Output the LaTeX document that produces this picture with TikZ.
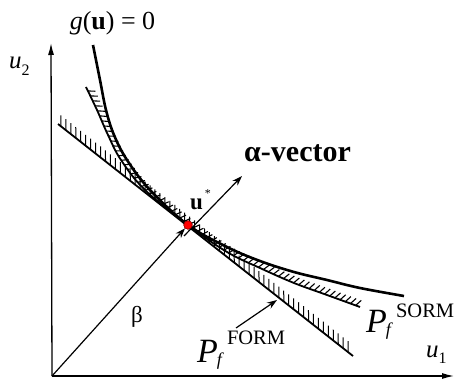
\documentclass[tikz,border=0pt]{standalone}
\usepackage{fontspec}
\setmainfont{Liberation Serif}
\usetikzlibrary{arrows.meta,decorations.markings}
\tikzset{
  axisline/.style={line width=1.3pt,-{Latex[length=12pt,width=6pt]}},
  limitcurve/.style={line width=2.6pt},
  sormcurve/.style={line width=1.8pt,
    postaction={decorate,decoration={markings,
      mark=between positions 0.012 and 0.99 step 5.5pt with {\draw[line width=1.1pt] (0pt,0pt) -- (62:7.5pt);}}}},
  formline/.style={line width=1.8pt,
    postaction={decorate,decoration={markings,
      mark=between positions 0.01 and 0.995 step 6.3pt with {\draw[line width=1pt] (0pt,0pt) -- (128.5:11pt);}}}},
  vecarrow/.style={line width=1.2pt,-{Stealth[length=10pt,width=7pt]}},
  lbl/.style={inner sep=0pt},
  dpoint/.style={circle,fill=red,draw=red!50!black,line width=0.4pt,inner sep=0pt,minimum size=8.5pt}
}
\begin{document}
\begin{tikzpicture}[x=1pt,y=-1pt]
\useasboundingbox (0,0) rectangle (454,379);
% coordinates
\coordinate (O) at (52,376);
\coordinate (ytip) at (51,43);
\coordinate (xtip) at (454,376);
\coordinate (f1) at (58,124);
\coordinate (f2) at (353,356);
\coordinate (astart) at (184,236);
\coordinate (atip) at (242,176);
\coordinate (pa1) at (236,328);
\coordinate (pa2) at (277,300);
% axes
\draw[axisline] (O) -- (ytip);
\draw[axisline] (O) -- (xtip);
% FORM line
\draw[formline] (f1) -- (f2);
% SORM curve
\draw[sormcurve] plot[smooth,tension=0.6] coordinates {(86,87) (97,110) (108,135) (121,160) (145,190) (188,225) (227,252) (260,268) (294,283) (327,295) (360,307)};
% limit state curve
\draw[limitcurve] plot[smooth,tension=0.6] coordinates {(93,45) (100,80) (106,110) (114,135) (127,160) (150,190) (188,225) (227,247) (260,261) (294,272) (327,280) (360,288) (404,296)};
% design point
\node[dpoint] (dp) at (188,225) {};
% vectors
\draw[vecarrow] (O) -- (dp);
\draw[vecarrow] (astart) -- (atip);
\draw[vecarrow] (pa1) -- (pa2);
\node[dpoint] at (dp) {};
% labels
\node[lbl,anchor=base] (glab) at (112.5,30) {\fontsize{26}{26}\selectfont\textit{g}(\textbf{u}) = 0};
\node[lbl,anchor=base west] (u2) at (9,69) {\fontsize{25}{25}\selectfont\textit{u}\raisebox{-7pt}{\fontsize{16}{16}\selectfont 2}};
\node[lbl,anchor=base west] (u1) at (426,357) {\fontsize{25}{25}\selectfont\textit{u}\raisebox{-6pt}{\fontsize{16}{16}\selectfont 1}};
\node[lbl,anchor=base] (beta) at (137,322) {\fontsize{23}{23}\selectfont β};
\node[lbl,anchor=base west] (ustar) at (190,209) {\fontsize{23}{23}\selectfont\textbf{u}\kern2pt\raisebox{12pt}{\fontsize{12}{12}\selectfont *}};
\node[lbl,anchor=base west] (alab) at (244,162) {\fontsize{30}{30}\selectfont\bfseries α-vector};
\node[lbl,anchor=base west] (pform) at (197,362) {\fontsize{34}{34}\selectfont\textit{P}\kern-1pt\raisebox{-3pt}{\fontsize{18}{18}\selectfont\textit{f}}\kern3pt\raisebox{18pt}{\fontsize{20.5}{20.5}\selectfont FORM}};
\node[lbl,anchor=base west] (psorm) at (366,332) {\fontsize{34}{34}\selectfont\textit{P}\kern-1pt\raisebox{-3pt}{\fontsize{18}{18}\selectfont\textit{f}}\kern3pt\raisebox{15pt}{\fontsize{20.5}{20.5}\selectfont SORM}};
\end{tikzpicture}
\end{document}
